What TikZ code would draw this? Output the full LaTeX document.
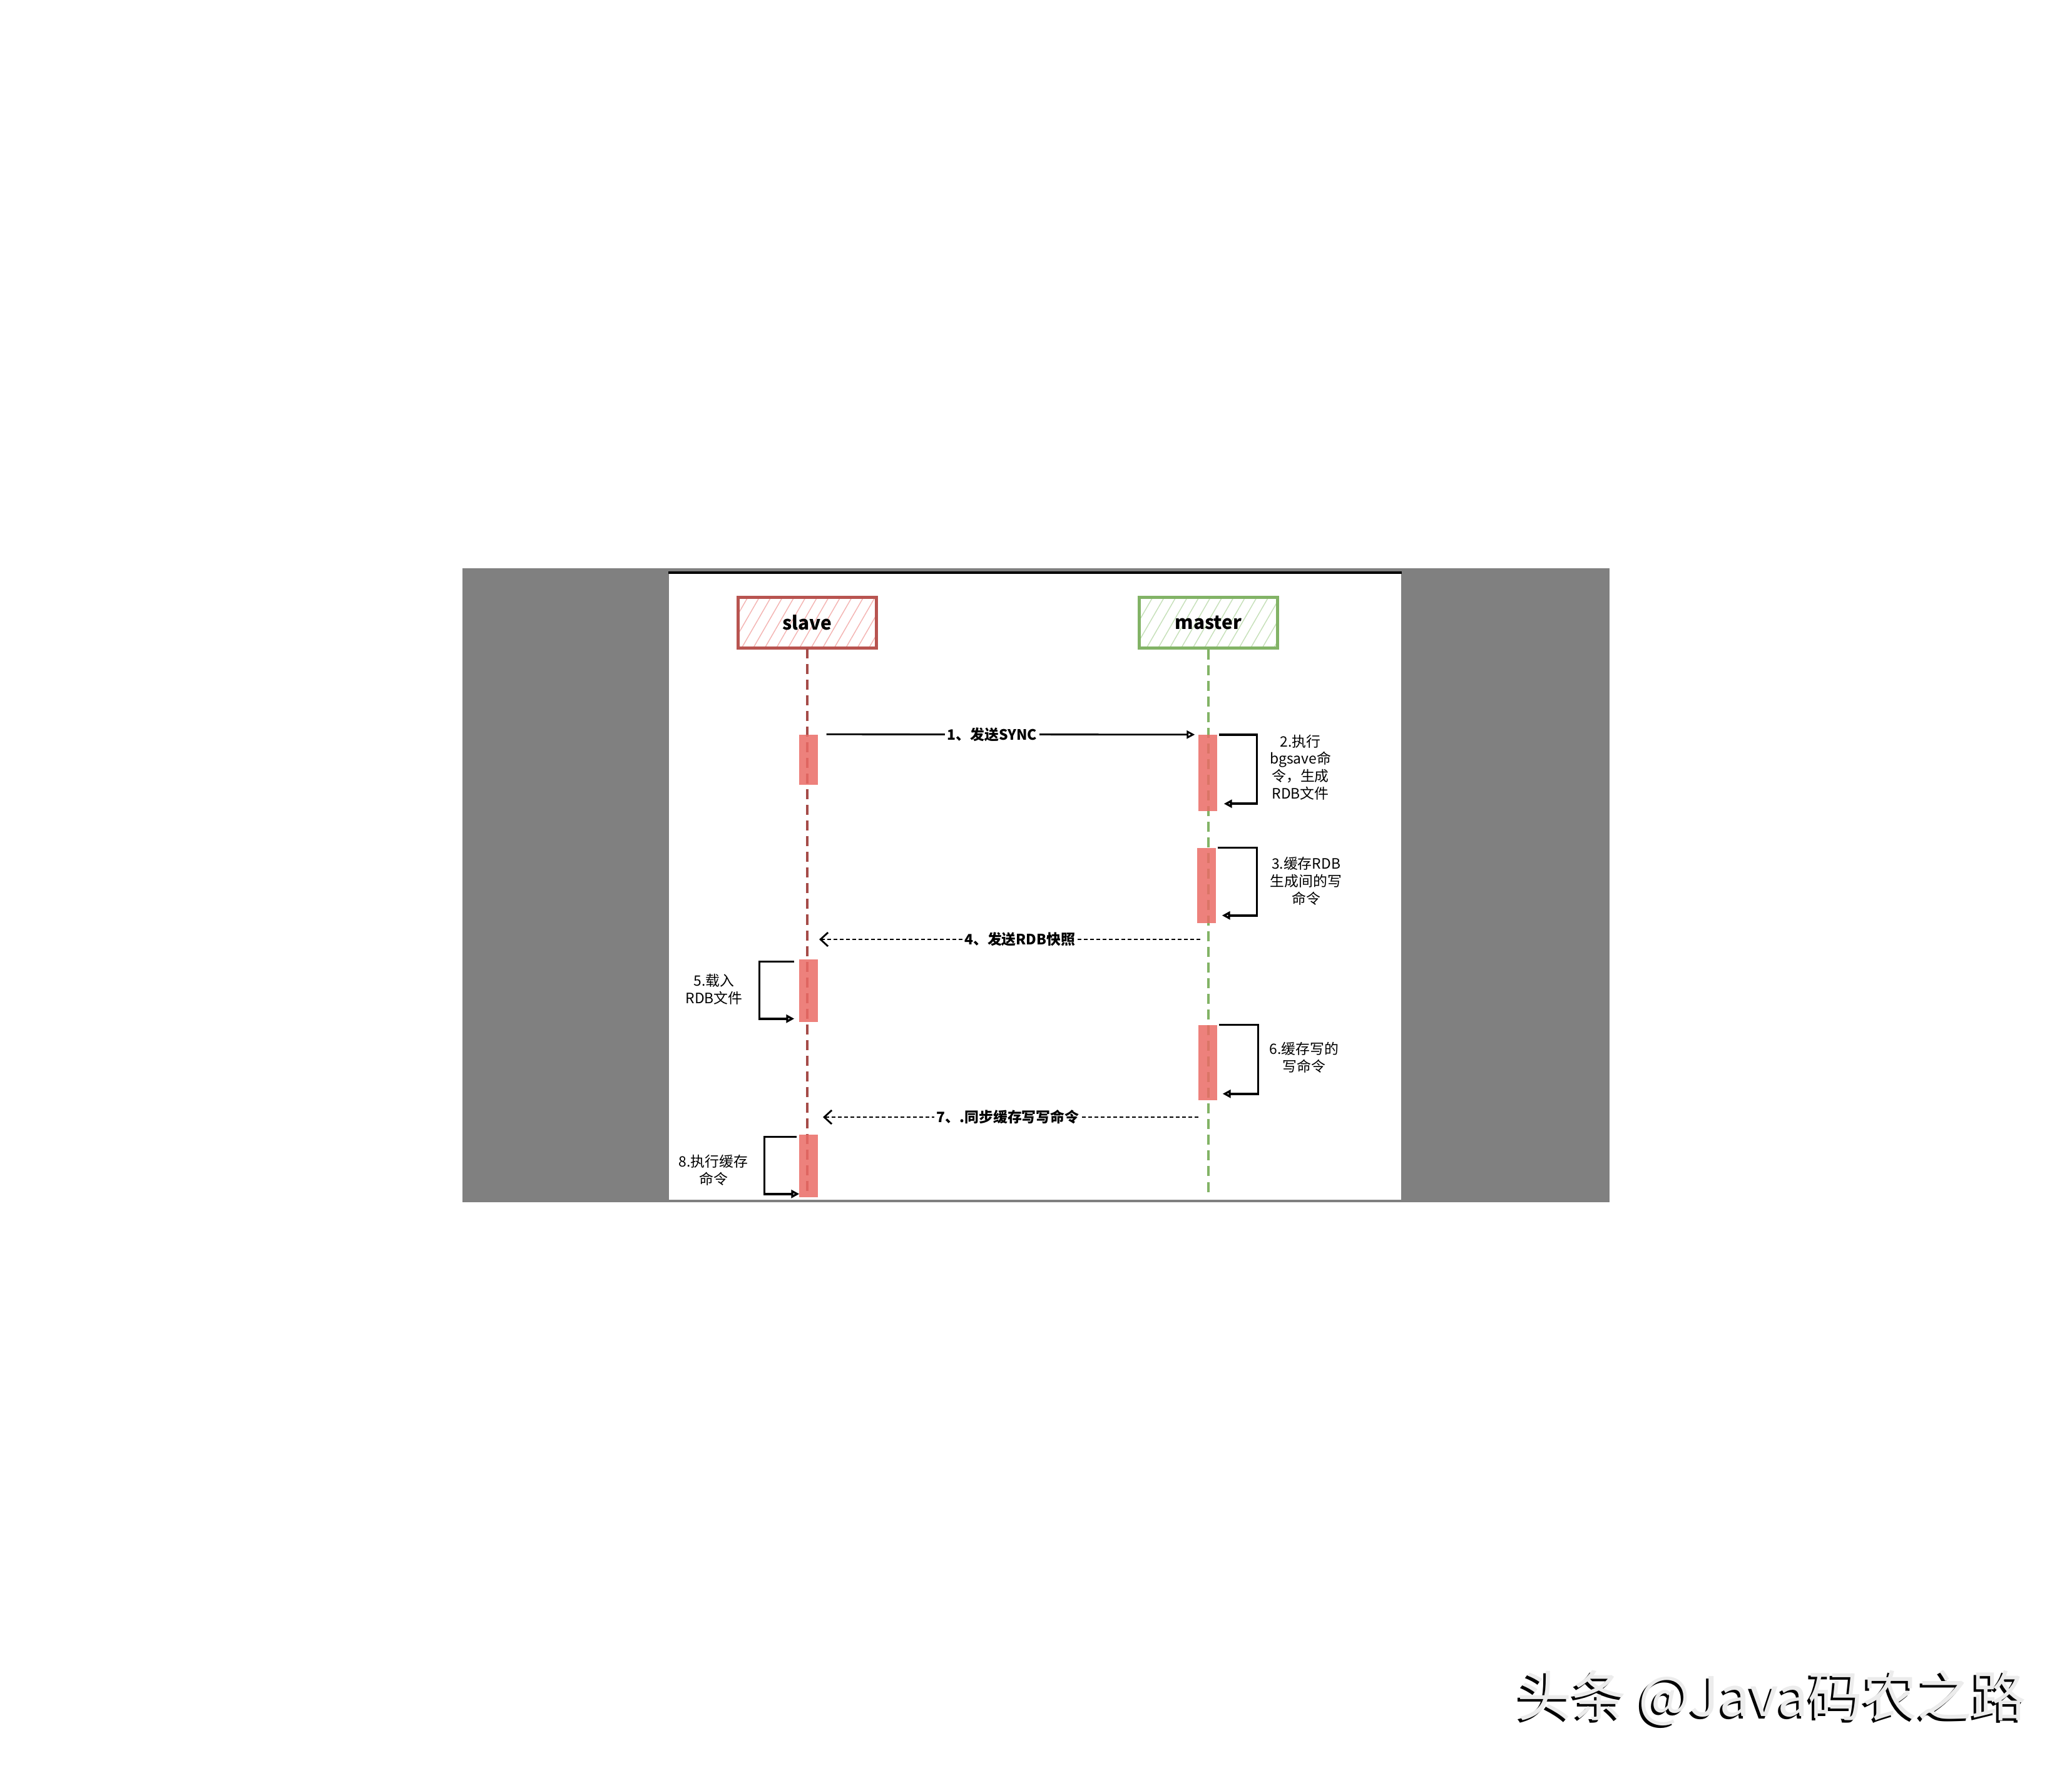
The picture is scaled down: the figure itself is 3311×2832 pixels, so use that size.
\documentclass[tikz,border=0pt]{standalone}
\usepackage{fontspec}
\setmainfont{Noto Sans CJK SC}
\usepackage{tikz}
\usetikzlibrary{positioning, arrows.meta, patterns.meta}

\definecolor{slaveline}{HTML}{B85450}
\definecolor{slavehatch}{HTML}{F4B3B1}
\definecolor{masterline}{HTML}{82B366}
\definecolor{masterhatch}{HTML}{C5E0B8}
\definecolor{barred}{HTML}{EA6B66}
\definecolor{panelgray}{HTML}{808080}

\begin{document}
\begin{tikzpicture}[
    x=0.01cm, y=-0.01cm,
    head/.style={rectangle, draw, line width=1.4pt, minimum width=2.2cm, minimum height=0.81cm,
                 font=\fontsize{8.5}{10}\selectfont\bfseries},
    bar/.style={rectangle, fill=barred, fill opacity=0.85, minimum width=0.3cm, inner sep=0pt},
    life/.style={line width=1.4pt, dash pattern=on 0.16cm off 0.09cm},
    msg/.style={line width=0.8pt, -{Triangle[open, length=0.13cm, width=0.13cm]}},
    reply/.style={line width=0.8pt, dash pattern=on 0.06cm off 0.04cm,
                  -{Straight Barb[length=0.12cm, width=0.22cm]}},
    self/.style={line width=1pt, -{Triangle[open, length=0.13cm, width=0.13cm]}},
    note/.style={align=center, font=\fontsize{6.5}{7.9}\selectfont},
    tag/.style={fill=white, inner sep=1pt, font=\fontsize{6.5}{8}\selectfont\bfseries},
    >=stealth
]
\fill[white] (0,0) rectangle (3311,2832);
\useasboundingbox (0,0) rectangle (3311,2832);

\fill[panelgray] (739,908) rectangle (2572,1921);
\fill[white] (1068,914) rectangle (2240,1917);
\draw[gray, line width=0.3pt] (1068,914) rectangle (2240,1917);
\draw[black, line width=1.1pt] (1068,915) -- (2240,915);

\node[head, draw=slaveline, pattern={Lines[angle=60, distance=0.16cm, line width=0.4pt]},
      pattern color=slavehatch] (slave) at (1290,995) {slave};
\node[head, draw=masterline, pattern={Lines[angle=60, distance=0.16cm, line width=0.4pt]},
      pattern color=masterhatch] (master) at (1931,995) {master};

\coordinate (slave end) at (1290,1910);
\coordinate (master end) at (1931,1908);
\draw[life, slaveline!90!black] (slave) -- (slave end);
\draw[life, masterline] (master) -- (master end);

\node[bar, minimum height=0.8cm] (s1) at (1292,1214) {};
\node[bar, minimum height=1.0cm] (s2) at (1292,1583) {};
\node[bar, minimum height=1.0cm] (s3) at (1292,1863) {};
\node[bar, minimum height=1.21cm] (m1) at (1930,1235) {};
\node[bar, minimum height=1.2cm] (m2) at (1928,1415) {};
\node[bar, minimum height=1.2cm] (m3) at (1930,1698) {};

\draw[msg] ([xshift=0.13cm]s1.north east) -- node[tag, pos=0.45] {1、发送SYNC} ([xshift=-0.05cm]m1.north west);
\draw[self] ([xshift=0.02cm]m1.north east) -- ++(61,0) |- ([xshift=0.1cm, yshift=0.12cm]m1.south east);
\node[note] (note2) at (2078,1226) {2.执行\\bgsave命\\令，生成\\RDB文件};
\draw[self] ([xshift=0.02cm]m2.north east) -- ++(63,0) |- ([xshift=0.09cm, yshift=0.13cm]m2.south east);
\node[note] (note3) at (2087,1408) {3.缓存RDB\\生成间的写\\命令};

\coordinate (y4) at (0,1501);
\draw[reply, shorten <=0.13cm, shorten >=0.19cm] (master |- y4) -- node[tag, pos=0.47] {4、发送RDB快照} (slave |- y4);
\draw[self] ([xshift=-0.07cm, yshift=-0.04cm]s2.north west) -- ++(-56,0) |- ([xshift=-0.07cm, yshift=0.06cm]s2.south west);
\node[note] (note5) at (1141,1581) {5.载入\\RDB文件};
\draw[self] ([xshift=0.02cm]m3.north east) -- ++(63,0) |- ([xshift=0.08cm, yshift=0.11cm]m3.south east);
\node[note] (note6) at (2084,1690) {6.缓存写的\\写命令};

\coordinate (y7) at (0,1785);
\draw[reply, shorten <=0.16cm, shorten >=0.25cm] (master |- y7) -- node[tag, pos=0.5] {7、.同步缓存写写命令} (slave |- y7);
\draw[self] ([xshift=-0.03cm, yshift=-0.04cm]s3.north west) -- ++(-52,0) |- ([xshift=0.01cm, yshift=0.06cm]s3.south west);
\node[note] (note8) at (1140,1870) {8.执行缓存\\命令};

\node[font=\fontsize{24.8}{28}\selectfont, text=black] (markshadow) at (2827,2717) {头条 @Java码农之路};
\node[font=\fontsize{24.8}{28}\selectfont, text=gray!15] (mark) at (2831,2713) {头条 @Java码农之路};
\end{tikzpicture}
\end{document}
